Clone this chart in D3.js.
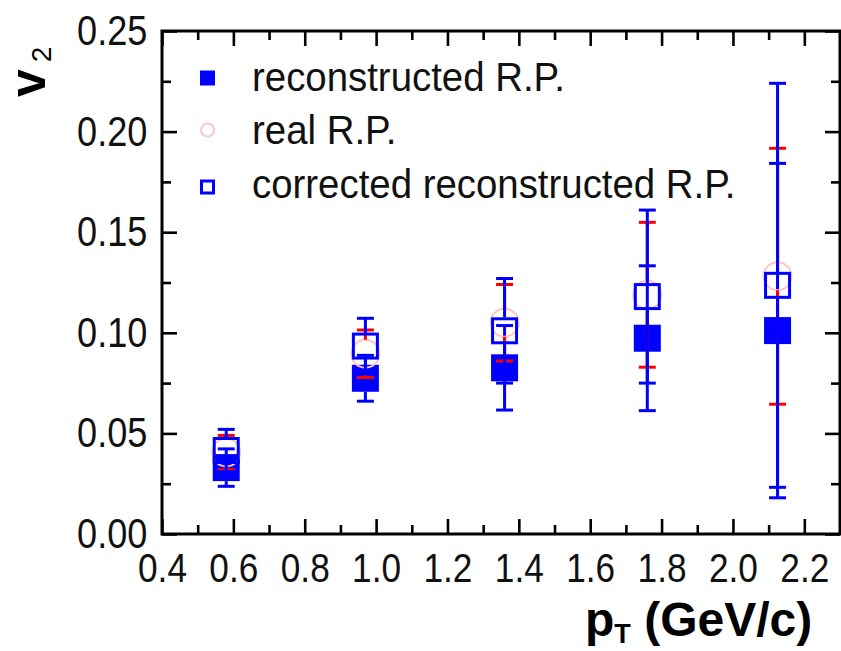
<!DOCTYPE html>
<html><head><meta charset="utf-8">
<script src="https://cdn.jsdelivr.net/npm/d3@7"></script>
<style>
html,body{margin:0;padding:0;background:#fff;}
svg{display:block;font-family:"Liberation Sans",Arial,Helvetica,sans-serif;}
</style></head>
<body><svg id="c" width="841" height="651"></svg>
<script>
// ---- data ----
const pt      = [0.58, 0.97, 1.36, 1.76, 2.125];
const v2Reco  = [0.033, 0.0774, 0.0826, 0.0973, 0.1011];
const errReco = [0.0093, 0.0114, 0.021, 0.036, 0.0831];
const v2Real  = [0.0405, 0.0896, 0.105, 0.1189, 0.1281];
const errReal = [0.0085, 0.0118, 0.019, 0.036, 0.0636];
const v2Corr  = [0.0415, 0.0934, 0.101, 0.118, 0.1236];
const errCorr = [0.0105, 0.0138, 0.026, 0.043, 0.1004];
const xMajor  = [0.4, 0.6, 0.8, 1.0, 1.2, 1.4, 1.6, 1.8, 2.0, 2.2];
const xMinor  = [0.5, 0.7, 0.9, 1.1, 1.3, 1.5, 1.7, 1.9, 2.1, 2.3];
const yMajor  = [0.00, 0.05, 0.10, 0.15, 0.20, 0.25];
const yMinor  = [0.025, 0.075, 0.125, 0.175, 0.225];
const legendLabels = ["reconstructed R.P.", "real R.P.", "corrected reconstructed R.P."];

const L=162, R=840, T=31, B=534;
const x = d3.scaleLinear().domain([0.4,2.3]).range([L,R]);
const y = d3.scaleLinear().domain([0,0.25]).range([B,T]);
const svg = d3.select("#c");
const SX = 0.86, FS = 41;

function styleAxis(g){
  g.select(".domain").remove();
  g.selectAll("line").attr("stroke","#000").attr("stroke-width",2.6);
}
// bottom
svg.append("g").attr("transform",`translate(0,${B})`)
  .call(d3.axisBottom(x).tickValues(xMajor).tickSizeInner(-15).tickSizeOuter(0).tickPadding(19).tickFormat(d3.format(".1f")))
  .call(styleAxis)
  .call(g=>g.selectAll("text").attr("font-size",FS).attr("fill","#111")
     .attr("font-family","'Liberation Sans',Arial,sans-serif").attr("transform",`scale(${SX},1)`));
svg.append("g").attr("transform",`translate(0,${B})`)
  .call(d3.axisBottom(x).tickValues(xMinor).tickSizeInner(-9).tickSizeOuter(0).tickFormat(""))
  .call(styleAxis);
// top
svg.append("g").attr("transform",`translate(0,${T})`)
  .call(d3.axisTop(x).tickValues(xMajor).tickSizeInner(-15).tickSizeOuter(0).tickFormat(""))
  .call(styleAxis);
svg.append("g").attr("transform",`translate(0,${T})`)
  .call(d3.axisTop(x).tickValues(xMinor).tickSizeInner(-9).tickSizeOuter(0).tickFormat(""))
  .call(styleAxis);
// left
svg.append("g").attr("transform",`translate(${L},0)`)
  .call(d3.axisLeft(y).tickValues(yMajor).tickSizeInner(-15).tickSizeOuter(0).tickPadding(17).tickFormat(d3.format(".2f")))
  .call(styleAxis)
  .call(g=>g.selectAll("text").attr("font-size",42).attr("fill","#111")
     .attr("font-family","'Liberation Sans',Arial,sans-serif").attr("transform",`scale(${SX},1)`));
svg.append("g").attr("transform",`translate(${L},0)`)
  .call(d3.axisLeft(y).tickValues(yMinor).tickSizeInner(-9).tickSizeOuter(0).tickFormat(""))
  .call(styleAxis);
// right
svg.append("g").attr("transform",`translate(${R},0)`)
  .call(d3.axisRight(y).tickValues(yMajor).tickSizeInner(-15).tickSizeOuter(0).tickFormat(""))
  .call(styleAxis);
svg.append("g").attr("transform",`translate(${R},0)`)
  .call(d3.axisRight(y).tickValues(yMinor).tickSizeInner(-9).tickSizeOuter(0).tickFormat(""))
  .call(styleAxis);
// frame
svg.append("rect").attr("x",L).attr("y",T).attr("width",R-L).attr("height",B-T)
  .attr("fill","none").attr("stroke","#000").attr("stroke-width",3);

// ---- error bars + markers ----
const CAP=8.5, LW=3;
function errorBars(vals, errs, half, color){
  const g = svg.append("g").attr("stroke",color).attr("stroke-width",LW);
  pt.forEach((p,i)=>{
    const cx=x(p), cy=y(vals[i]), yt=y(vals[i]+errs[i]), yb=y(vals[i]-errs[i]);
    if (yt < cy-half) g.append("line").attr("x1",cx).attr("x2",cx).attr("y1",yt).attr("y2",cy-half);
    if (yb > cy+half) g.append("line").attr("x1",cx).attr("x2",cx).attr("y1",cy+half).attr("y2",yb);
    g.append("line").attr("x1",cx-CAP).attr("x2",cx+CAP).attr("y1",yt).attr("y2",yt);
    g.append("line").attr("x1",cx-CAP).attr("x2",cx+CAP).attr("y1",yb).attr("y2",yb);
  });
}
const HS=13.5;
// reconstructed (filled)
errorBars(v2Reco, errReco, HS, "#0000ff");
svg.append("g").selectAll("rect").data(pt).join("rect")
  .attr("x",d=>x(d)-HS).attr("y",(d,i)=>y(v2Reco[i])-HS)
  .attr("width",2*HS).attr("height",2*HS).attr("fill","#0000ff");
// real (pink circle, red bars)
svg.append("g").selectAll("circle").data(pt).join("circle")
  .attr("cx",d=>x(d)).attr("cy",(d,i)=>y(v2Real[i])).attr("r",14)
  .attr("fill","none").attr("stroke","#ffc4c4").attr("stroke-width",2);
errorBars(v2Real, errReal, 14, "#ff0000");
// corrected (open square)
errorBars(v2Corr, errCorr, HS, "#0000ff");
svg.append("g").selectAll("rect").data(pt).join("rect")
  .attr("x",d=>x(d)-HS+1.5).attr("y",(d,i)=>y(v2Corr[i])-HS+1.5)
  .attr("width",2*HS-3).attr("height",2*HS-3)
  .attr("fill","none").attr("stroke","#0000ff").attr("stroke-width",3);

// ---- legend ----
const lg = svg.append("g");
const ly = [78, 130, 187], lt=[91,144,198];
lg.append("rect").attr("x",200).attr("y",ly[0]-7.5).attr("width",15).attr("height",15).attr("fill","#0000ff");
lg.append("circle").attr("cx",207.5).attr("cy",ly[1]).attr("r",6.5).attr("fill","none").attr("stroke","#ffc4c4").attr("stroke-width",2);
lg.append("rect").attr("x",201.5).attr("y",ly[2]-6).attr("width",12).attr("height",12).attr("fill","none").attr("stroke","#0000ff").attr("stroke-width",3);
legendLabels.forEach((t,i)=>{
  lg.append("text").attr("transform",`translate(252,${lt[i]}) scale(0.96,1)`)
    .attr("font-size",40).attr("fill","#111").text(t);
});

// ---- axis titles ----
const xt = svg.append("text").attr("x",585).attr("y",636).attr("font-size",48).attr("font-weight","bold").attr("fill","#000");
xt.append("tspan").text("p");
xt.append("tspan").attr("font-size",27).attr("dy",7).text("T");
xt.append("tspan").attr("dy",-7).text(" (GeV/c)");

const yt = svg.append("text").attr("transform","translate(45,97) rotate(-90)")
  .attr("font-size",50).attr("font-weight","bold").attr("fill","#000");
yt.append("tspan").text("v");
yt.append("tspan").attr("font-size",28).attr("font-weight","normal").attr("dx",7).attr("dy",6).text("2");
</script></body></html>
